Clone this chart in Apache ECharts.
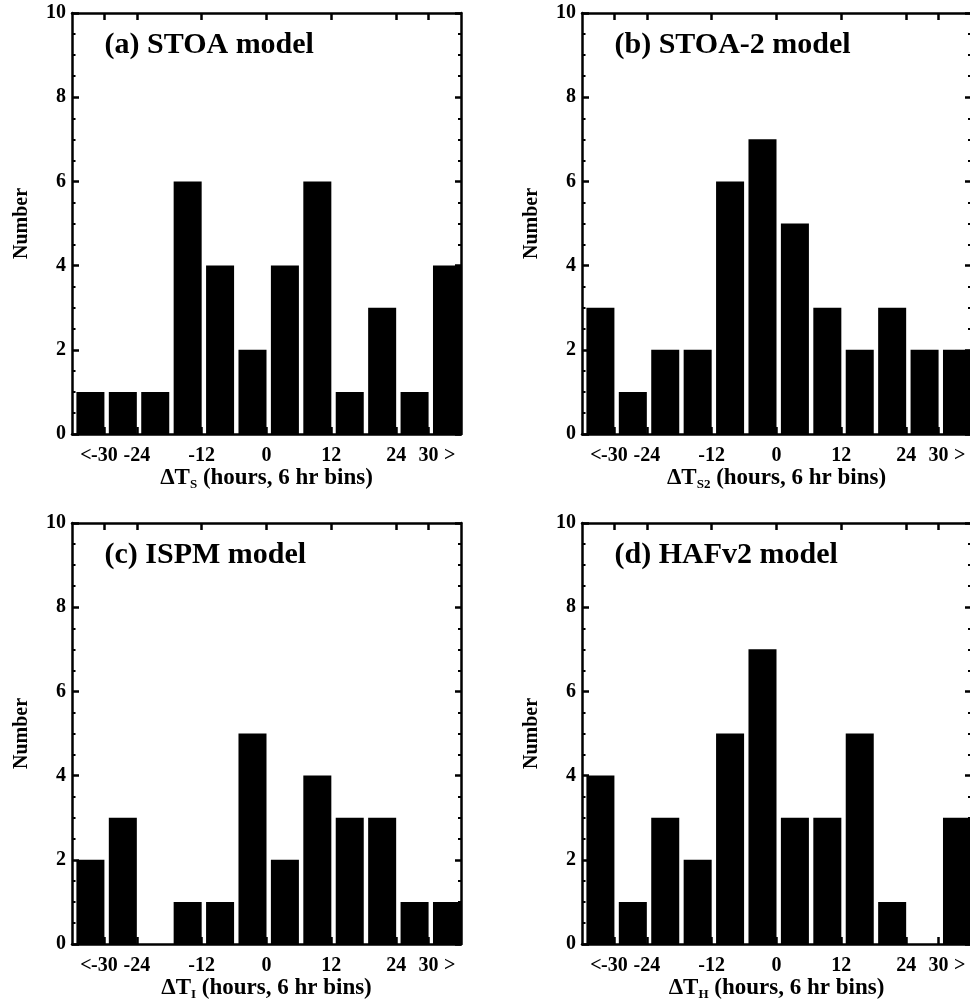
<!DOCTYPE html>
<html>
<head>
<meta charset="utf-8">
<script src="https://cdn.jsdelivr.net/npm/echarts@6/dist/echarts.min.js"></script>
<style>
  html, body { margin: 0; padding: 0; background: #fff; }
  #chart { width: 970px; height: 999px; }
</style>
</head>
<body>
<div id="chart"></div>
<script>
// ---- data ----
const binEdges = [-36, -30, -24, -18, -12, -6, 0, 6, 12, 18, 24, 30, 36];
const tickValues = [-30, -24, -12, 0, 12, 24, 30];
const openEndValues = [-30, 30];
const openEndMarks = { '-30': '<', '30': '>' };
const panelTitles = ['(a) STOA model', '(b) STOA-2 model', '(c) ISPM model', '(d) HAFv2 model'];
const subscripts = ['S', 'S2', 'I', 'H'];
const valuesA = [1, 1, 1, 6, 4, 2, 4, 6, 1, 3, 1, 4];
const valuesB = [3, 1, 2, 2, 6, 7, 5, 3, 2, 3, 2, 2];
const valuesC = [2, 3, 0, 1, 1, 5, 2, 4, 3, 3, 1, 1];
const valuesD = [4, 1, 3, 2, 5, 7, 3, 3, 5, 1, 0, 3];
const allValues = [valuesA, valuesB, valuesC, valuesD];

// ---- layout ----
const FONT = 'Liberation Serif';
const panels = [
  { left: 72,  top: 13,  width: 389, height: 421 },
  { left: 582, top: 13,  width: 389, height: 421 },
  { left: 72,  top: 523, width: 389, height: 421 },
  { left: 582, top: 523, width: 389, height: 421 }
];
const LW = 2.5;
const axisLine = { show: true, onZero: false, lineStyle: { color: '#000', width: LW } };
const labelFont = { color: '#000', fontFamily: FONT, fontWeight: 'bold', fontSize: 20 };

const grid = [], xAxis = [], yAxis = [], series = [], title = [];
panels.forEach((p, i) => {
  grid.push({ left: p.left, top: p.top, width: p.width, height: p.height,
              show: false, outerBoundsMode: 'none', containLabel: false });
  const xb = xAxis.length;
  // bottom x axis
  xAxis.push({
    type: 'value', gridIndex: i, position: 'bottom', min: -36, max: 36, interval: 6,
    axisLine: axisLine,
    axisTick: { show: true, inside: true, length: 7, customValues: tickValues,
                lineStyle: { color: '#000', width: LW } },
    axisLabel: Object.assign({ show: true, customValues: tickValues, margin: 12,
                 hideOverlap: false }, labelFont),
    splitLine: { show: false },
    name: '{n|\u0394T}{s|' + subscripts[i] + '}{n| (hours, 6 hr bins)}',
    nameLocation: 'middle', nameGap: 33,
    nameTextStyle: {
      color: '#000', fontFamily: FONT, fontWeight: 'bold', fontSize: 23,
      rich: {
        n: { color: '#000', fontFamily: FONT, fontWeight: 'bold', fontSize: 23, lineHeight: 23, verticalAlign: 'top' },
        s: { color: '#000', fontFamily: FONT, fontWeight: 'bold', fontSize: 13, lineHeight: 13, padding: [11, 0, 0, 0], verticalAlign: 'top' }
      }
    }
  });
  // open-ended bin markers "<" and ">" next to -30 and 30
  xAxis.push({
    type: 'value', gridIndex: i, position: 'bottom', min: -36, max: 36, interval: 6,
    axisLine: { show: false }, axisTick: { show: false }, splitLine: { show: false },
    axisLabel: Object.assign({ show: true, customValues: openEndValues, margin: 12,
      formatter: function (v) { return v < 0 ? '{l|' + openEndMarks[String(v)] + '}' : '{r|' + openEndMarks[String(v)] + '}'; },
      rich: {
        l: Object.assign({ padding: [0, 37, 0, 0] }, labelFont),
        r: Object.assign({ padding: [0, 0, 0, 42] }, labelFont)
      } }, labelFont)
  });
  // top x axis (frame)
  xAxis.push({
    type: 'value', gridIndex: i, position: 'top', min: -36, max: 36, interval: 6,
    axisLine: axisLine,
    axisTick: { show: true, inside: true, length: 7, customValues: tickValues,
                lineStyle: { color: '#000', width: LW } },
    axisLabel: { show: false },
    splitLine: { show: false }
  });
  const yb = yAxis.length;
  // left y axis
  yAxis.push({
    type: 'value', gridIndex: i, position: 'left', min: 0, max: 10, interval: 2,
    axisLine: axisLine,
    axisTick: { show: true, inside: true, length: 7, lineStyle: { color: '#000', width: LW } },
    minorTick: { show: true, splitNumber: 4, length: 3.5, lineStyle: { color: '#000', width: 2 } },
    axisLabel: Object.assign({ show: true, margin: 6 }, labelFont),
    splitLine: { show: false }, minorSplitLine: { show: false },
    name: 'Number', nameLocation: 'middle', nameGap: 40, nameRotate: 90,
    nameTextStyle: labelFont
  });
  // right y axis (frame)
  yAxis.push({
    type: 'value', gridIndex: i, position: 'right', min: 0, max: 10, interval: 2,
    axisLine: axisLine,
    axisTick: { show: true, inside: true, length: 6, lineStyle: { color: '#000', width: LW } },
    minorTick: { show: true, splitNumber: 4, length: 3, lineStyle: { color: '#000', width: 2 } },
    axisLabel: { show: false },
    splitLine: { show: false }, minorSplitLine: { show: false }
  });
  const vals = allValues[i];
  const data = vals.map((v, k) => [binEdges[k], binEdges[k + 1], v]);
  series.push({
    type: 'custom', xAxisIndex: xb, yAxisIndex: yb, z: 3,
    data: data,
    encode: { x: [0, 1], y: 2 },
    renderItem: function (params, api) {
      const x0 = api.value(0), x1 = api.value(1), v = api.value(2);
      const p0 = api.coord([x0, 0]);
      const p1 = api.coord([x1, v]);
      const gap = 4.4;
      const h = p0[1] - p1[1];
      if (h <= 0) return null;
      return {
        type: 'rect',
        shape: { x: p0[0] + gap, y: p1[1], width: p1[0] - p0[0] - gap, height: h },
        style: { fill: '#000' }
      };
    },
    silent: true, animation: false
  });
  title.push({
    text: panelTitles[i], left: p.left + 32.5, top: p.top + 17, padding: 0,
    textStyle: { color: '#000', fontFamily: FONT, fontWeight: 'bold', fontSize: 30 }
  });
});

const chart = echarts.init(document.getElementById('chart'), null, { renderer: 'canvas' });
chart.setOption({
  backgroundColor: '#fff',
  animation: false,
  title: title,
  grid: grid,
  xAxis: xAxis,
  yAxis: yAxis,
  series: series
});
</script>
</body>
</html>
